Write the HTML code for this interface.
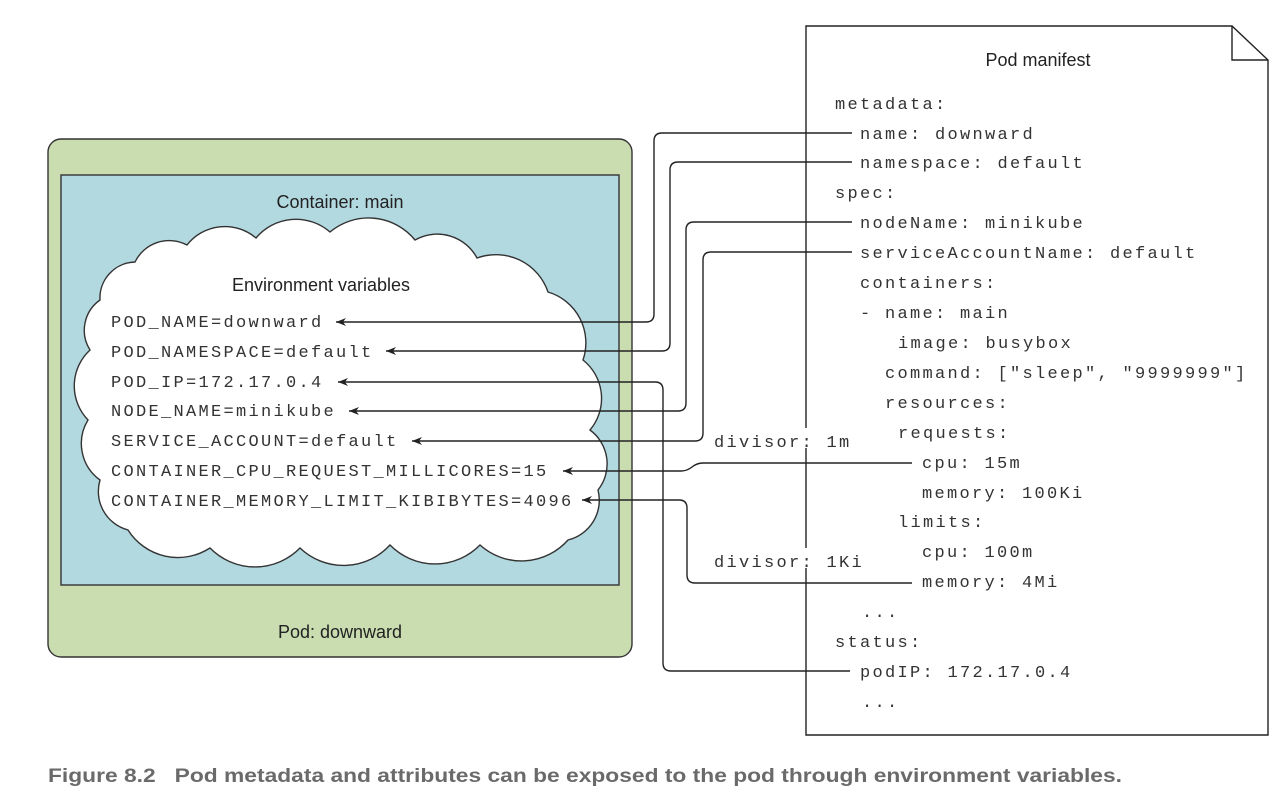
<!DOCTYPE html>
<html><head><meta charset="utf-8"><style>
html,body{margin:0;padding:0;background:#fff;}
svg{display:block;}
.m{font-family:"Liberation Mono",monospace;font-size:17px;fill:#333;letter-spacing:2.3px;}
.s{font-family:"Liberation Sans",sans-serif;font-size:18px;fill:#222;}
.c{fill:none;stroke:#222;stroke-width:1.4;}
</style></head><body>
<svg width="1280" height="802" viewBox="0 0 1280 802" xmlns="http://www.w3.org/2000/svg">
<defs><marker id="a" markerWidth="12" markerHeight="8" refX="10" refY="4" orient="auto" markerUnits="userSpaceOnUse"><path d="M0,0 L10,4 L0,8 L3,4 Z" fill="#222"/></marker></defs>

<path d="M806,26 H1232 L1268,60 V735 H806 Z" fill="#fff" stroke="#222" stroke-width="1.4"/>
<path d="M1232,26 V60 H1268" fill="none" stroke="#222" stroke-width="1.4"/>
<text class="s" x="1038" y="66" text-anchor="middle">Pod manifest</text>

<rect x="48" y="139" width="584" height="518" rx="13" fill="#c9ddb0" stroke="#333" stroke-width="1.4"/>
<rect x="61" y="175" width="558" height="410" fill="#b3d9e0" stroke="#333" stroke-width="1.4"/>
<text class="s" x="340" y="208" text-anchor="middle">Container: main</text>
<text class="s" x="340" y="638" text-anchor="middle">Pod: downward</text>

<path fill="#fff" stroke="#333" stroke-width="1.4" d="M100,300 A36,36 0 0 1 135,262 A38,38 0 0 1 187,245 A48,48 0 0 1 256,238 A52,52 0 0 1 330,232 A60,60 0 0 1 415,240 A45,45 0 0 1 477,258 A55,55 0 0 1 548,292 A53,53 0 0 1 583,360 A49,49 0 0 1 590,430 A42,42 0 0 1 598,490 A41,41 0 0 1 568,540 A62,62 0 0 1 480,545 A63,63 0 0 1 390,545 A63,63 0 0 1 300,548 A63,63 0 0 1 210,548 A59,59 0 0 1 128,530 A40,40 0 0 1 100,480 A45,45 0 0 1 88,420 A49,49 0 0 1 90,350 A37,37 0 0 1 100,300 Z"/>
<text class="s" x="321" y="291" text-anchor="middle">Environment variables</text>

<g class="m">
<text x="111" y="327">POD_NAME=downward</text>
<text x="111" y="357">POD_NAMESPACE=default</text>
<text x="111" y="387">POD_IP=172.17.0.4</text>
<text x="111" y="416">NODE_NAME=minikube</text>
<text x="111" y="446">SERVICE_ACCOUNT=default</text>
<text x="111" y="476">CONTAINER_CPU_REQUEST_MILLICORES=15</text>
<text x="111" y="506">CONTAINER_MEMORY_LIMIT_KIBIBYTES=4096</text>
</g>

<g class="c">
<path d="M852,133 H662 Q654,133 654,141 V314 Q654,322 646,322 H336" marker-end="url(#a)"/>
<path d="M852,162 H678 Q670,162 670,170 V343 Q670,351 662,351 H386" marker-end="url(#a)"/>
<path d="M850,671 H671 Q663,671 663,663 V390 Q663,382 655,382 H338" marker-end="url(#a)"/>
<path d="M852,222 H694 Q686,222 686,230 V403 Q686,411 678,411 H349" marker-end="url(#a)"/>
<path d="M852,252 H711 Q703,252 703,260 V433 Q703,441 695,441 H412" marker-end="url(#a)"/>
<path d="M912,463 H703 Q697,463 692,467 Q687,471 681,471 H563" marker-end="url(#a)"/>
<path d="M912,583 H695 Q687,583 687,575 V508 Q687,500 679,500 H582" marker-end="url(#a)"/>
</g>

<rect x="712" y="428" width="142" height="20" fill="#fff"/>
<rect x="712" y="548" width="152" height="20" fill="#fff"/>
<g class="m">
<text x="714" y="447">divisor: 1m</text>
<text x="714" y="567">divisor: 1Ki</text>
<text x="835" y="109">metadata:</text>
<text x="860" y="139">name: downward</text>
<text x="860" y="168">namespace: default</text>
<text x="835" y="198">spec:</text>
<text x="860" y="228">nodeName: minikube</text>
<text x="860" y="258">serviceAccountName: default</text>
<text x="860" y="288">containers:</text>
<text x="860" y="318">- name: main</text>
<text x="898" y="348">image: busybox</text>
<text x="885" y="378">command: ["sleep", "9999999"]</text>
<text x="885" y="408">resources:</text>
<text x="898" y="438">requests:</text>
<text x="922" y="468">cpu: 15m</text>
<text x="922" y="498">memory: 100Ki</text>
<text x="898" y="527">limits:</text>
<text x="922" y="557">cpu: 100m</text>
<text x="922" y="587">memory: 4Mi</text>
<text x="862" y="617">...</text>
<text x="835" y="647">status:</text>
<text x="860" y="677">podIP: 172.17.0.4</text>
<text x="862" y="707">...</text>
</g>

<text x="48" y="782" font-family="Liberation Sans, sans-serif" font-weight="bold" font-size="19" fill="#6a6a6a" textLength="1074" lengthAdjust="spacingAndGlyphs" xml:space="preserve">Figure 8.2   Pod metadata and attributes can be exposed to the pod through environment variables.</text>
</svg>
</body></html>
